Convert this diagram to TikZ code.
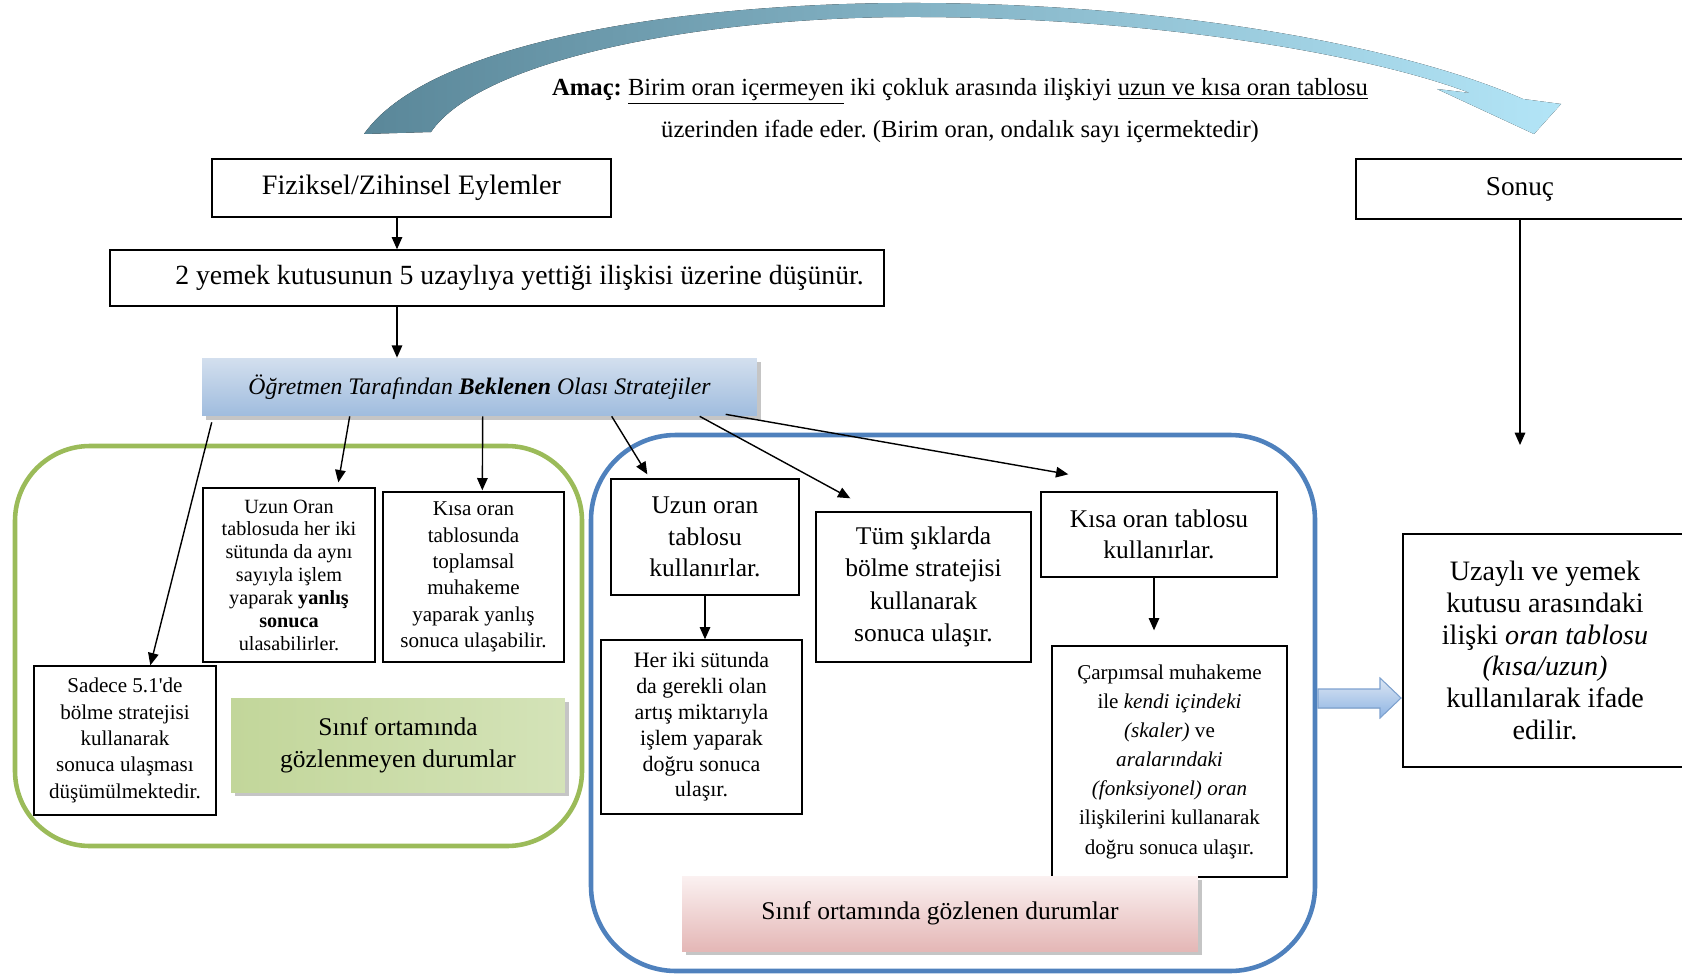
\documentclass[tikz,border=0pt]{standalone}
\usepackage{fontspec}
\setmainfont{Liberation Serif}[Ligatures=TeXOff]
\frenchspacing
\usetikzlibrary{arrows.meta,calc,shadows}

\definecolor{framegreen}{HTML}{9BBB59}
\definecolor{frameblue}{HTML}{4F81BD}
\definecolor{arcdark}{HTML}{5A8799}
\definecolor{arclight}{HTML}{B3E5F7}
\definecolor{strattop}{HTML}{D3DFEE}
\definecolor{stratbot}{HTML}{9FBCDE}
\definecolor{gtagdark}{HTML}{C2D69A}
\definecolor{gtaglight}{HTML}{EEF3E3}
\definecolor{gtagmid}{HTML}{D4E3B8}
\definecolor{ptagtop}{HTML}{FBF1F1}
\definecolor{ptagbot}{HTML}{E4B7B6}
\definecolor{notetop}{HTML}{DCE6F3}
\definecolor{notebot}{HTML}{8EB4E3}
\definecolor{noteline}{HTML}{7EA2CF}

\tikzset{
	box/.style={draw, fill=white, line width=0.8pt, align=center, inner sep=2pt},
	arr/.style={-{Triangle[length=7pt,width=6pt]}, line width=0.8pt},
	frame/.style={line width=2.6pt},
	tagshadow/.style={drop shadow={shadow xshift=2.5pt, shadow yshift=-2.5pt, fill=black!45}},
	fsz/.style 2 args={font=\fontsize{#1}{#2}\selectfont},
}

\begin{document}
\begin{tikzpicture}[x=0.02cm, y=-0.02cm]

	\useasboundingbox (0,0) rectangle (1682,973);

	% --- Curved goal arrow ---
	\fill[left color=arcdark, right color=arclight]
		(364,134) .. controls (430,40) and (690,2) .. (920,3)
		.. controls (1170,4) and (1400,45) .. (1523,99)
		-- (1561,104) -- (1534,134) -- (1437,89) -- (1470,93)
		.. controls (1370,55) and (1160,18) .. (920,17)
		.. controls (700,16) and (480,60) .. (431,132) -- cycle;

	\node[fsz={14}{24}, align=center] (amac) at (960,111)
		{\textbf{Amaç:} \underline{Birim oran içermeyen} iki çokluk arasında ilişkiyi \underline{uzun ve kısa oran tablosu}\\
		 üzerinden ifade eder. (Birim oran, ondalık sayı içermektedir)};

	% --- Group frames ---
	\draw[frame, framegreen, rounded corners=1.5cm] (15,446) rectangle (582,846);
	\draw[frame, frameblue, rounded corners=1.7cm] (591,435) rectangle (1315,971);

	% --- Top row ---
	\node[box, fsz={16}{19}, minimum width=7.98cm, minimum height=1.16cm] (fiz) at (411.5,188)
		{Fiziksel/Zihinsel Eylemler};
	\node[box, fsz={15.8}{18}, minimum width=15.48cm, minimum height=1.12cm] (dusun) at (497,278)
		{\hspace*{0.9cm}2 yemek kutusunun 5 uzaylıya yettiği ilişkisi üzerine düşünür.};
	\node[top color=strattop, bottom color=stratbot, tagshadow, fsz={13.5}{16},
		minimum width=11.1cm, minimum height=1.16cm] (strat) at (479.5,387)
		{\itshape Öğretmen Tarafından \textbf{Beklenen} Olası Stratejiler};
	\node[box, fsz={15.5}{18.5}, minimum width=6.56cm, minimum height=1.2cm] (sonuc) at (1520,189)
		{Sonuç};

	% --- Not observed in class ---
	\node[box, fsz={12}{15}, minimum width=3.64cm, minimum height=2.98cm] (sadece) at (125,740.5)
		{Sadece 5.1'de\\ bölme stratejisi\\ kullanarak\\ sonuca ulaşması\\ düşümülmektedir.};
	\node[box, fsz={11.5}{13}, minimum width=3.44cm, minimum height=3.48cm] (uzunyanlis) at (289,575)
		{Uzun Oran\\ tablosuda her iki\\ sütunda da aynı\\ sayıyla işlem\\ yaparak \textbf{yanlış}\\ \textbf{sonuca}\\ ulasabilirler.};
	\node[box, fsz={12}{15}, minimum width=3.62cm, minimum height=3.4cm] (kisayanlis) at (473.5,577)
		{Kısa oran\\ tablosunda\\ toplamsal\\ muhakeme\\ yaparak yanlış\\ sonuca ulaşabilir.};
	\node[left color=gtagdark, middle color=gtaglight, right color=gtagmid, tagshadow, align=center,
		fsz={14.5}{18}, minimum width=6.68cm, minimum height=1.88cm] (gozlenmeyen) at (398,745)
		{Sınıf ortamında\\ gözlenmeyen durumlar};

	% --- Observed in class ---
	\node[box, fsz={14.5}{18}, minimum width=3.76cm, minimum height=2.32cm] (uzuntablo) at (705,537)
		{Uzun oran\\ tablosu\\ kullanırlar.};
	\node[box, fsz={12.5}{14.7}, minimum width=4.02cm, minimum height=3.48cm] (heriki) at (701.5,727)
		{Her iki sütunda\\ da gerekli olan\\ artış miktarıyla\\ işlem yaparak\\ doğru sonuca\\ ulaşır.};
	\node[box, fsz={14.5}{18.4}, minimum width=4.3cm, minimum height=3cm] (tum) at (923.5,587)
		{Tüm şıklarda\\ bölme stratejisi\\ kullanarak\\ sonuca ulaşır.};
	\node[box, fsz={14.5}{18}, minimum width=4.72cm, minimum height=1.7cm] (kisatablo) at (1159,534.5)
		{Kısa oran tablosu\\ kullanırlar.};
	\node[box, fsz={12}{16.6}, minimum width=4.7cm, minimum height=4.62cm] (carpimsal) at (1169.5,761.5)
		{Çarpımsal muhakeme\\ ile \textit{kendi içindeki}\\ \textit{(skaler)} ve\\ \textit{aralarındaki}\\ \textit{(fonksiyonel) oran}\\ ilişkilerini kullanarak\\ doğru sonuca ulaşır.};
	\node[top color=ptagtop, bottom color=ptagbot, tagshadow, fsz={14.5}{18},
		minimum width=10.32cm, minimum height=1.5cm] (gozlenen) at (940,913.5)
		{Sınıf ortamında gözlenen durumlar};

	% --- Result ---
	\node[box, fsz={16}{18}, minimum width=5.68cm, minimum height=4.66cm] (ifade) at (1545,650.5)
		{Uzaylı ve yemek\\ kutusu arasındaki\\ ilişki \textit{oran tablosu}\\ \textit{(kısa/uzun)}\\ kullanılarak ifade\\ edilir.};

	% block arrow into the result box
	\fill[top color=notetop, bottom color=notebot] (1318,689) -- (1380,689) -- (1380,678) -- (1401,698)
		-- (1380,718) -- (1380,708) -- (1318,708) -- cycle;
	\draw[noteline, line width=0.6pt] (1318,689) -- (1380,689) -- (1380,678) -- (1401,698)
		-- (1380,718) -- (1380,708) -- (1318,708) -- cycle;

	% --- Connectors ---
	\coordinate (xa) at (397,0);
	\coordinate (sonucuc) at (1520,445);
	\draw[arr] (fiz.south -| xa) -- (dusun.north -| xa);
	\draw[arr] (dusun.south -| xa) -- (strat.north -| xa);
	\draw[arr] (sonuc.south) -- (sonucuc);

	\draw[arr] ($(strat.south west)+(10,6)$) -- ($(sadece.north west)+(117,0)$);
	\draw[arr] ($(strat.south west)+(148,0)$) -- ($(uzunyanlis.north west)+(136,-5)$);
	\draw[arr] ($(strat.south west)+(281,0)$) -- ($(kisayanlis.north west)+(100,-1)$);
	\draw[arr] ($(strat.south west)+(410,0)$) -- ($(uzuntablo.north west)+(37,-4)$);
	\draw[arr] ($(strat.south west)+(498,0)$) -- ($(tum.north west)+(35,-13)$);
	\draw[arr] ($(strat.south west)+(524,-2)$) -- ($(kisatablo.north west)+(28,-17)$);

	\draw[arr] (uzuntablo.south) -- (uzuntablo.south |- heriki.north);
	\draw[arr] ($(kisatablo.south)+(-5,0)$) -- ($(kisatablo.south |- carpimsal.north)+(-5,-15)$);

\end{tikzpicture}
\end{document}
